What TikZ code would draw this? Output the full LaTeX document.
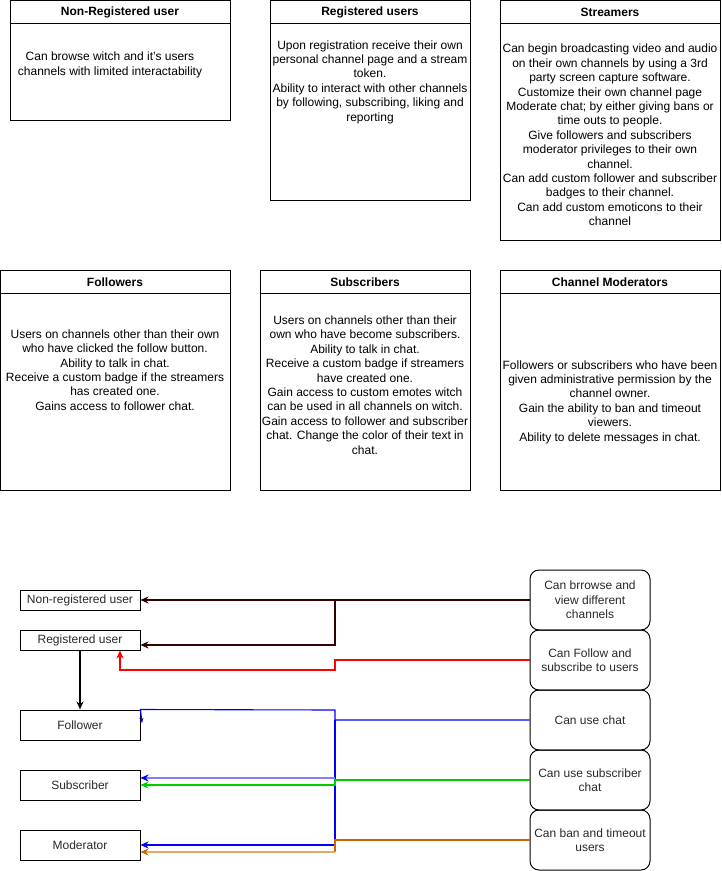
\documentclass[tikz,border=0pt]{standalone}
\usepackage{fontspec}
\setmainfont{Liberation Sans}
\usetikzlibrary{arrows.meta,calc}
\definecolor{cbrown}{RGB}{51,0,0}
\definecolor{cred}{RGB}{255,0,0}
\definecolor{cblue}{RGB}{0,0,255}
\definecolor{cbluel}{RGB}{128,128,255}
\definecolor{cgreen}{RGB}{0,204,0}
\definecolor{corange}{RGB}{204,102,0}
\definecolor{corangel}{RGB}{228,168,112}
\definecolor{ctext}{RGB}{40,40,40}
\tikzset{
  txt/.style={font=\fontsize{12}{14.4}\selectfont, align=center, inner sep=0pt},
  hdr/.style={txt, font=\fontsize{12}{14.4}\selectfont\bfseries},
  lane/.style={draw, line width=1pt, anchor=north west, inner sep=0pt},
  rolebox/.style={draw, line width=1pt, minimum width=120pt, txt, text=ctext},
  capbox/.style={draw, line width=1pt, rounded corners=9pt, minimum width=120pt, minimum height=60pt, txt, text=ctext},
  conn/.style={line width=1.1pt},
  tip/.style={-{Stealth[length=8pt,width=7pt,inset=2.5pt]}},
}
\begin{document}
\begin{tikzpicture}[x=1pt,y=-1pt]
\useasboundingbox (0,0) rectangle (721,871);

% ---- top row lanes
\node[lane, minimum width=220pt, minimum height=120pt] (nrl) at (10,0) {};
\draw[line width=1pt] (10,23) -- (230,23);
\node[hdr] (nrh) at (120,12) {Non-Registered user};
\node[txt] (nrb) at (110,65) {Can browse witch and it's users\\channels with limited interactability};

\node[lane, minimum width=200pt, minimum height=200pt] (rgl) at (270,0) {};
\draw[line width=1pt] (270,23) -- (470,23);
\node[hdr] (rgh) at (370,12) {Registered users};
\node[txt] (rgb) at (370,82) {Upon registration receive their own\\personal channel page and a stream\\token.\\Ability to interact with other channels\\by following, subscribing, liking and\\reporting};

\node[lane, minimum width=220pt, minimum height=240pt] (stl) at (500,0) {};
\draw[line width=1pt] (500,23) -- (720,23);
\node[hdr] (sth) at (610,12) {Streamers};
\node[txt] (stb) at (610,135) {Can begin broadcasting video and audio\\on their own channels by using a 3rd\\party screen capture software.\\Customize their own channel page\\Moderate chat; by either giving bans or\\time outs to people.\\Give followers and subscribers\\moderator privileges to their own\\channel.\\Can add custom follower and subscriber\\badges to their channel.\\Can add custom emoticons to their\\channel};

% ---- middle row lanes
\node[lane, minimum width=230pt, minimum height=220pt] (fll) at (0,270) {};
\draw[line width=1pt] (0,293) -- (230,293);
\node[hdr] (flh) at (115,282) {Followers};
\node[txt] (flb) at (115,370) {Users on channels other than their own\\who have clicked the follow button.\\Ability to talk in chat.\\Receive a custom badge if the streamers\\has created one.\\Gains access to follower chat.};

\node[lane, minimum width=210pt, minimum height=220pt] (sbl) at (260,270) {};
\draw[line width=1pt] (260,293) -- (470,293);
\node[hdr] (sbh) at (365,282) {Subscribers};
\node[txt] (sbb) at (365,385) {Users on channels other than their\\own who have become subscribers.\\Ability to talk in chat.\\Receive a custom badge if streamers\\have created one.\\Gain access to custom emotes witch\\can be used in all channels on witch.\\Gain access to follower and subscriber\\chat. Change the color of their text in\\chat.};

\node[lane, minimum width=220pt, minimum height=220pt] (cml) at (500,270) {};
\draw[line width=1pt] (500,293) -- (720,293);
\node[hdr] (cmh) at (610,282) {Channel Moderators};
\node[txt] (cmb) at (610,402) {Followers or subscribers who have been\\given administrative permission by the\\channel owner.\\Gain the ability to ban and timeout\\viewers.\\Ability to delete messages in chat.};

% ---- bottom: roles
\node[rolebox, minimum height=20pt] (nru) at (80,600) {Non-registered user};
\node[rolebox, minimum height=20pt] (ru) at (80,640) {Registered user};
\node[rolebox, minimum height=30pt] (fol) at (80,725) {Follower};
\node[rolebox, minimum height=30pt] (sub) at (80,785) {Subscriber};
\node[rolebox, minimum height=30pt] (mod) at (80,845) {Moderator};

% ---- bottom: capabilities
\node[capbox] (br) at (590,600) {Can brrowse and\\view different\\channels};
\node[capbox] (fo) at (590,660) {Can Follow and\\subscribe to users};
\node[capbox] (uc) at (590,720) {Can use chat};
\node[capbox] (us) at (590,780) {Can use subscriber\\chat};
\node[capbox] (ban) at (590,840) {Can ban and timeout\\users};

% ---- connectors
\draw[conn, cbrown, tip] (br.west) -- (nru.east);
\draw[conn, cbrown, tip] (335,600) -- (335,645) -- ($(ru.east)+(0,5)$);
\draw[conn, cred, tip] (fo.west) -- (335,660) -- (335,670) -- (120,670) -- ($(ru.south)+(40,0)$);
\draw[conn, black, tip] (ru.south) -- (fol.north);
\draw[conn, cblue, -{Stealth[length=5pt,width=4pt,inset=1.5pt]}] (uc.west) -- (335,720) -- (335,710) -- (fol.north east) -- ($(fol.east)+(1.5,-2)$);
\draw[conn, cblue] (335,720) -- (335,845);
\draw[cbluel, line width=1.9pt, -{Stealth[length=8pt,width=7pt,inset=2.5pt,color=cblue]}] (335,778) -- ($(sub.east)+(0,-7)$);
\draw[conn, cblue, tip] (335,845) -- (mod.east);
\draw[conn, cgreen, tip] (us.west) -- (335,780) -- (335,785) -- (sub.east);
\draw[conn, corange] (ban.west) -- (335,840) -- (335,852);
\draw[corangel, line width=1.7pt, -{Stealth[length=8pt,width=7pt,inset=2.5pt,color=corange]}] (335,852) -- ($(mod.east)+(0,7)$);
\end{tikzpicture}
\end{document}
